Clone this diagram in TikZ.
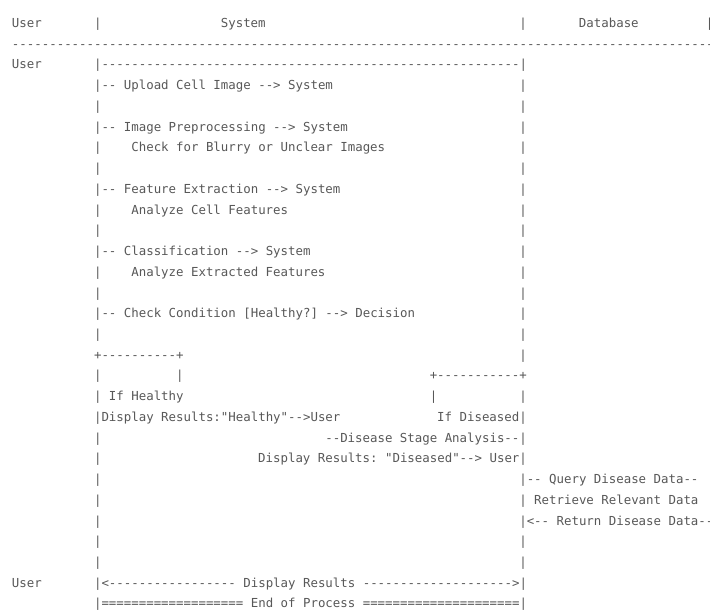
\documentclass[tikz,border=0pt]{standalone}
\usepackage{fontspec}
\setmonofont{DejaVu Sans Mono}
\definecolor{ink}{RGB}{88,88,88}
\ExplSyntaxOn
\cs_new:Npn \myrep #1#2 { \prg_replicate:nn {#1} {#2} }
\ExplSyntaxOff
\newcommand\seg[4]{\node[txt] (#1) at ({12+(#2)*7.46},{69+(#3)*20.73}) {#4};}
\begin{document}
\begin{tikzpicture}[x=0.75pt,y=-0.75pt,
  txt/.style={anchor=base west,inner sep=0pt,outer sep=0pt,text=ink,
    font=\ttfamily\frenchspacing\fontsize{9.3}{11}\selectfont}]
\fill[white] (0,0) rectangle (710,610);
\useasboundingbox (0,0) rectangle (710,610);
\clip (0,0) rectangle (710,610);
% header
\seg{hU}{0}{-2}{User}
\seg{hB1}{11}{-2}{|}
\seg{hS}{28}{-2}{System}
\seg{hB2}{68}{-2}{|}
\seg{hD}{76}{-2}{Database}
\seg{hB3}{93}{-2}{|}
\seg{sep}{0}{-1}{\myrep{96}{-}}
% row 0
\seg{u0}{0}{0}{User}
\seg{r0}{11}{0}{|\myrep{56}{-}|}
% steps
\seg{r1a}{11}{1}{|-- Upload Cell Image --> System}
\seg{r1b}{68}{1}{|}
\seg{r2a}{11}{2}{|}
\seg{r2b}{68}{2}{|}
\seg{r3a}{11}{3}{|-- Image Preprocessing --> System}
\seg{r3b}{68}{3}{|}
\seg{r4a}{11}{4}{|}
\seg{r4t}{16}{4}{Check for Blurry or Unclear Images}
\seg{r4b}{68}{4}{|}
\seg{r5a}{11}{5}{|}
\seg{r5b}{68}{5}{|}
\seg{r6a}{11}{6}{|-- Feature Extraction --> System}
\seg{r6b}{68}{6}{|}
\seg{r7a}{11}{7}{|}
\seg{r7t}{16}{7}{Analyze Cell Features}
\seg{r7b}{68}{7}{|}
\seg{r8a}{11}{8}{|}
\seg{r8b}{68}{8}{|}
\seg{r9a}{11}{9}{|-- Classification --> System}
\seg{r9b}{68}{9}{|}
\seg{r10a}{11}{10}{|}
\seg{r10t}{16}{10}{Analyze Extracted Features}
\seg{r10b}{68}{10}{|}
\seg{r11a}{11}{11}{|}
\seg{r11b}{68}{11}{|}
\seg{r12a}{11}{12}{|-- Check Condition [Healthy?] --> Decision}
\seg{r12b}{68}{12}{|}
\seg{r13a}{11}{13}{|}
\seg{r13b}{68}{13}{|}
% branches
\seg{r14a}{11}{14}{+\myrep{10}{-}+}
\seg{r14b}{68}{14}{|}
\seg{r15a}{11}{15}{|}
\seg{r15c}{22}{15}{|}
\seg{r15b}{56}{15}{+\myrep{11}{-}+}
\seg{r16a}{11}{16}{| If Healthy}
\seg{r16c}{56}{16}{|}
\seg{r16b}{68}{16}{|}
\seg{r17a}{11}{17}{|Display Results:"Healthy"-->User}
\seg{r17b}{57}{17}{If Diseased|}
\seg{r18a}{11}{18}{|}
\seg{r18b}{42}{18}{--Disease Stage Analysis--|}
\seg{r19a}{11}{19}{|}
\seg{r19b}{33}{19}{Display Results: "Diseased"--> User|}
\seg{r20a}{11}{20}{|}
\seg{r20b}{68}{20}{|-- Query Disease Data--}
\seg{r21a}{11}{21}{|}
\seg{r21b}{68}{21}{| Retrieve Relevant Data}
\seg{r22a}{11}{22}{|}
\seg{r22b}{68}{22}{|<-- Return Disease Data--}
\seg{r23a}{11}{23}{|}
\seg{r23b}{68}{23}{|}
\seg{r24a}{11}{24}{|}
\seg{r24b}{68}{24}{|}
% end
\seg{u25}{0}{25}{User}
\seg{r25}{11}{25}{|<\myrep{17}{-}~Display Results~\myrep{20}{-}>|}
\seg{r26}{11}{26}{|\myrep{19}{=}~End of Process~\myrep{21}{=}|}
\end{tikzpicture}
\end{document}
